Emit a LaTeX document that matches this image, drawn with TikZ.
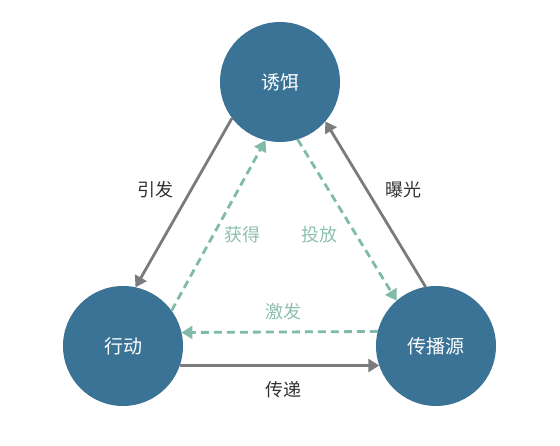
\documentclass[tikz,border=0pt]{standalone}
\usepackage{fontspec}
\setmainfont{Noto Sans CJK SC}
\usetikzlibrary{arrows.meta}
\definecolor{circ}{HTML}{3A7396}
\definecolor{garr}{HTML}{7B7B7D}
\definecolor{tarr}{HTML}{80BAA8}
\definecolor{tlab}{HTML}{8DBFB0}
\definecolor{dlab}{HTML}{333333}
\tikzset{
  bub/.style={circle, fill=circ, minimum size=120pt, inner sep=0pt, outer sep=0pt, text=white, font=\fontsize{19pt}{21pt}\selectfont},
  solidarr/.style={draw=garr, line width=2.8pt, -{Triangle[length=11pt,width=13pt]}},
  dasharr/.style={draw=tarr, line width=2.8pt, dash pattern=on 8pt off 5pt, -{Triangle[length=11pt,width=13pt]}},
  dlabel/.style={text=dlab, font=\fontsize{18pt}{20pt}\selectfont},
  tlabel/.style={text=tlab, font=\fontsize{18pt}{20pt}\selectfont}
}
\begin{document}
\begin{tikzpicture}[x=1pt,y=1pt]
\useasboundingbox (0,0) rectangle (560,446);
\node[bub] (bait) at (280,364) {诱饵};
\node[bub] (act) at (123,100) {行动};
\node[bub] (src) at (436,100) {传播源};
% solid
\draw[solidarr] (bait.217.8) -- (act.78);
\draw[solidarr] (src.100.2) -- (bait.319.5);
\draw[solidarr] (act.-19.3) -- (src.199.9);
% dashed
\draw[dasharr] (act.36.3) -- (bait.256.2);
\draw[dasharr] (bait.287) -- (src.131.3);
\draw[dasharr] (src.166.9) -- (act.13.1);
% labels
\node[dlabel] (l1) at (155,256) {引发};
\node[tlabel] (l2) at (242,211) {获得};
\node[dlabel] (l3) at (403,256) {曝光};
\node[tlabel] (l4) at (319,211) {投放};
\node[tlabel] (l5) at (283,134) {激发};
\node[dlabel] (l6) at (283,56) {传递};
\end{tikzpicture}
\end{document}
